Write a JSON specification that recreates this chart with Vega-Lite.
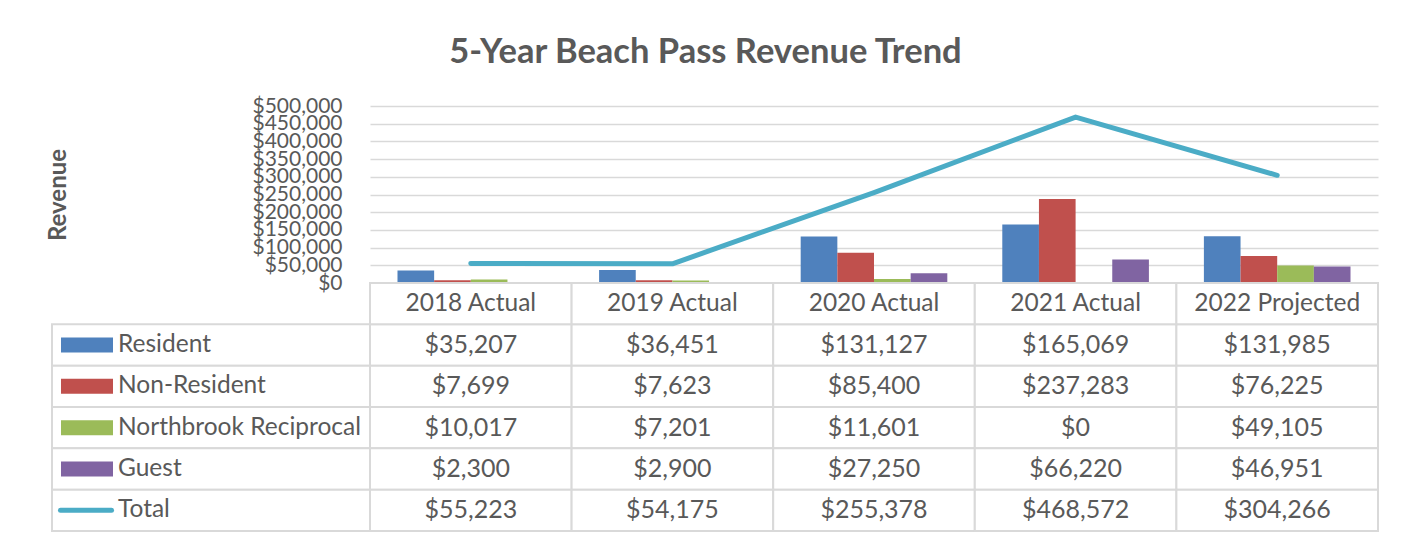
{
  "$schema": "https://vega.github.io/schema/vega-lite/v6.json",
  "padding": {"left": 46, "top": 34, "right": 5, "bottom": 5},
  "background": "white",
  "title": {"text": "5-Year Beach Pass Revenue Trend", "fontSize": 34.5, "font": "Lato", "fontWeight": "bold", "color": "#595959", "anchor": "middle", "offset": 25, "dx": -7},
  "config": {"view": {"stroke": null}, "font": "Lato"},
  "datasets": {
    "rev": [
      {"year": "2018 Actual", "series": "Resident", "value": 35207},
      {"year": "2019 Actual", "series": "Resident", "value": 36451},
      {"year": "2020 Actual", "series": "Resident", "value": 131127},
      {"year": "2021 Actual", "series": "Resident", "value": 165069},
      {"year": "2022 Projected", "series": "Resident", "value": 131985},
      {"year": "2018 Actual", "series": "Non-Resident", "value": 7699},
      {"year": "2019 Actual", "series": "Non-Resident", "value": 7623},
      {"year": "2020 Actual", "series": "Non-Resident", "value": 85400},
      {"year": "2021 Actual", "series": "Non-Resident", "value": 237283},
      {"year": "2022 Projected", "series": "Non-Resident", "value": 76225},
      {"year": "2018 Actual", "series": "Northbrook Reciprocal", "value": 10017},
      {"year": "2019 Actual", "series": "Northbrook Reciprocal", "value": 7201},
      {"year": "2020 Actual", "series": "Northbrook Reciprocal", "value": 11601},
      {"year": "2021 Actual", "series": "Northbrook Reciprocal", "value": 0},
      {"year": "2022 Projected", "series": "Northbrook Reciprocal", "value": 49105},
      {"year": "2018 Actual", "series": "Guest", "value": 2300},
      {"year": "2019 Actual", "series": "Guest", "value": 2900},
      {"year": "2020 Actual", "series": "Guest", "value": 27250},
      {"year": "2021 Actual", "series": "Guest", "value": 66220},
      {"year": "2022 Projected", "series": "Guest", "value": 46951},
      {"year": "2018 Actual", "series": "Total", "value": 55223},
      {"year": "2019 Actual", "series": "Total", "value": 54175},
      {"year": "2020 Actual", "series": "Total", "value": 255378},
      {"year": "2021 Actual", "series": "Total", "value": 468572},
      {"year": "2022 Projected", "series": "Total", "value": 304266}
    ],
    "years": [
      {"year": "2018 Actual"},
      {"year": "2019 Actual"},
      {"year": "2020 Actual"},
      {"year": "2021 Actual"},
      {"year": "2022 Projected"}
    ]
  },
  "columns": 2,
  "spacing": 0,
  "bounds": "flush",
  "align": "each",
  "concat": [
    {
      "width": 318,
      "height": 177,
      "data": {"values": []},
      "mark": "rect",
      "encoding": {}
    },
    {
      "width": 1008,
      "height": 177,
      "data": {"name": "rev"},
      "encoding": {
        "x": {"field": "year", "type": "nominal", "scale": {"domain": ["2018 Actual", "2019 Actual", "2020 Actual", "2021 Actual", "2022 Projected"], "paddingInner": 0, "paddingOuter": 0}, "axis": null},
        "y": {
          "field": "value", "type": "quantitative",
          "scale": {"domain": [0, 500000]},
          "axis": {
            "title": "Revenue",
            "values": [0, 50000, 100000, 150000, 200000, 250000, 300000, 350000, 400000, 450000, 500000],
            "format": "$,.0f",
            "labelFont": "Lato", "labelFontSize": 21, "labelColor": "#595959", "labelPadding": 28,
            "labelOverlap": false, "labelFlush": false,
            "ticks": false, "domain": false,
            "gridColor": "#d9d9d9", "gridWidth": 1.5,
            "titleFont": "Lato", "titleFontSize": 24, "titleFontWeight": "bold", "titleColor": "#595959",
            "titleAngle": 270, "titleX": -312, "titleY": 88.5, "titleBaseline": "middle", "titleAlign": "center"
          }
        }
      },
      "layer": [
        {
          "transform": [{"filter": "datum.series !== 'Total'"}],
          "mark": {"type": "bar"},
          "encoding": {
            "xOffset": {"field": "series", "type": "nominal", "scale": {"domain": ["Resident", "Non-Resident", "Northbrook Reciprocal", "Guest"], "paddingInner": 0, "paddingOuter": 0.75}},
            "color": {"field": "series", "type": "nominal", "scale": {"domain": ["Resident", "Non-Resident", "Northbrook Reciprocal", "Guest"], "range": ["#4F81BD", "#C0504D", "#9BBB59", "#8064A2"]}, "legend": null}
          }
        },
        {
          "transform": [{"filter": "datum.series === 'Total'"}],
          "mark": {"type": "line", "color": "#4BACC6", "strokeWidth": 5, "strokeCap": "round", "strokeJoin": "round"},
          "encoding": {}
        }
      ]
    },
    {
      "width": 318,
      "height": 248,
      "data": {"name": "rev"},
      "transform": [{"filter": "datum.year === '2018 Actual'"}],
      "encoding": {
        "y": {"field": "series", "type": "nominal", "scale": {"domain": ["_hdr", "Resident", "Non-Resident", "Northbrook Reciprocal", "Guest", "Total"], "paddingInner": 0, "paddingOuter": 0}, "axis": null}
      },
      "layer": [
        {
          "mark": {"type": "rect", "fill": "white", "stroke": "#d9d9d9", "strokeWidth": 2},
          "encoding": {"x": {"datum": "label", "type": "nominal", "scale": {"paddingInner": 0, "paddingOuter": 0}, "axis": null}}
        },
        {
          "transform": [{"filter": "datum.series !== 'Total'"}],
          "mark": {"type": "point", "filled": true, "opacity": 1, "shape": "M-1,-0.288L1,-0.288L1,0.288L-1,0.288Z", "size": 2704},
          "encoding": {
            "x": {"value": 35},
            "color": {"field": "series", "type": "nominal", "scale": {"domain": ["Resident", "Non-Resident", "Northbrook Reciprocal", "Guest"], "range": ["#4F81BD", "#C0504D", "#9BBB59", "#8064A2"]}, "legend": null}
          }
        },
        {
          "transform": [{"filter": "datum.series === 'Total'"}],
          "mark": {"type": "point", "filled": false, "opacity": 1, "shape": "stroke", "size": 2601, "strokeWidth": 5, "strokeCap": "round", "color": "#4BACC6"},
          "encoding": {"x": {"value": 34}}
        },
        {
          "mark": {"type": "text", "align": "left", "baseline": "middle", "font": "Lato", "fontSize": 24.5, "color": "#595959"},
          "encoding": {"x": {"value": 66}, "text": {"field": "series"}}
        }
      ]
    },
    {
      "width": 1008,
      "height": 248,
      "encoding": {
        "x": {"field": "year", "type": "nominal", "scale": {"domain": ["2018 Actual", "2019 Actual", "2020 Actual", "2021 Actual", "2022 Projected"], "paddingInner": 0, "paddingOuter": 0}, "axis": null},
        "y": {"field": "series", "type": "nominal", "scale": {"domain": ["_hdr", "Resident", "Non-Resident", "Northbrook Reciprocal", "Guest", "Total"], "paddingInner": 0, "paddingOuter": 0}, "axis": null}
      },
      "layer": [
        {
          "data": {"name": "rev"},
          "mark": {"type": "rect", "fill": "white", "stroke": "#d9d9d9", "strokeWidth": 2}
        },
        {
          "data": {"name": "years"},
          "mark": {"type": "rect", "fill": "white", "stroke": "#d9d9d9", "strokeWidth": 2},
          "encoding": {"y": {"datum": "_hdr", "type": "nominal"}}
        },
        {
          "data": {"name": "rev"},
          "mark": {"type": "text", "align": "center", "baseline": "middle", "font": "Lato", "fontSize": 25, "color": "#595959"},
          "encoding": {"text": {"field": "value", "type": "quantitative", "format": "$,.0f"}}
        },
        {
          "data": {"name": "years"},
          "mark": {"type": "text", "align": "center", "baseline": "middle", "font": "Lato", "fontSize": 24.5, "color": "#595959"},
          "encoding": {"y": {"datum": "_hdr", "type": "nominal"}, "text": {"field": "year"}}
        }
      ]
    }
  ]
}
